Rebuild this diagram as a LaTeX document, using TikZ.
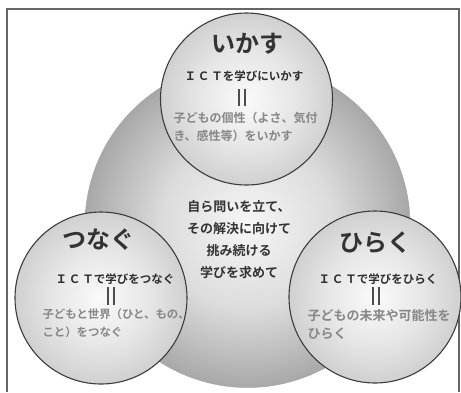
\documentclass[tikz,border=0pt]{standalone}
\usepackage{fontspec}
\setmainfont{Noto Sans CJK JP}[BoldFont={Noto Sans CJK JP Bold}]
\definecolor{headc}{HTML}{333333}
\definecolor{ictc}{HTML}{2E2E2E}
\definecolor{descc}{HTML}{878787}
\definecolor{edgec}{HTML}{3C3C3C}
\definecolor{bigin}{HTML}{F6F6F6}
\definecolor{bigmid}{HTML}{DCDCDC}
\definecolor{bigout}{HTML}{A8A8A8}
\definecolor{smin}{HTML}{FAFAFA}
\definecolor{smmid}{HTML}{E6E6E6}
\definecolor{smout}{HTML}{D0D0D0}
\pgfdeclareradialshading{bigshade}{\pgfpoint{0bp}{0bp}}{color(0bp)=(bigin); color(13bp)=(bigmid); color(25bp)=(bigout); color(50bp)=(bigout)}
\pgfdeclareradialshading{smshade}{\pgfpoint{0bp}{0bp}}{color(0bp)=(smin); color(14bp)=(smmid); color(25bp)=(smout); color(50bp)=(smout)}
\tikzset{
  bigc/.style={circle, minimum size=325pt, inner sep=0pt, shading=bigshade, draw=gray!70, line width=0.5pt},
  smallc/.style={circle, minimum size=172pt, inner sep=0pt, shading=smshade, draw=edgec, line width=1.1pt},
  headt/.style={font=\fontsize{24}{26}\selectfont\bfseries, text=headc},
  ictt/.style={font=\fontsize{11.5}{13}\selectfont\bfseries, text=ictc},
  desct/.style={font=\fontsize{12}{18}\selectfont\bfseries, text=descc, align=left},
  centt/.style={font=\fontsize{13}{22}\selectfont\bfseries, text=headc, align=center},
  eqbar/.style={draw=ictc!85, line width=2pt},
  framec/.style={draw=gray!80!black, line width=1.3pt}
}
\begin{document}
\begin{tikzpicture}[x=1pt,y=-1pt]
\useasboundingbox (0,0) rectangle (461,392);
\fill[white] (0,0) rectangle (461,392);
\draw[framec] (7,392) -- (7,9) -- (459,9) -- (459,392);
% big circle
\node[bigc] (big) at (247.5,225) {};
% small circles
\node[smallc] (top) at (246.5,99) {};
\node[smallc] (left) at (101,298) {};
\node[smallc] (right) at (375,297) {};
% top texts
\node[headt] (th) at (247,44) {いかす};
\node[ictt] (ti) at (244,76) {Ｉ\,Ｃ\,Ｔを学びにいかす};
\coordinate (tq) at (242,89);
\draw[eqbar] ([xshift=-2.6pt]tq) -- ++(0,17);
\draw[eqbar] ([xshift=2.6pt]tq) -- ++(0,17);
\node[desct, anchor=north west] (td) at (170,109) {子どもの個性（よさ、気付\\き、感性等）をいかす};
% center text
\node[centt] (ct) at (239,240) {自ら問いを立て、\\その解決に向けて\\挑み続ける\\学びを求めて};
% left texts
\node[headt] (lh) at (98,240) {つなぐ};
\node[ictt] (li) at (115,279) {Ｉ\,Ｃ\,Ｔで学びをつなぐ};
\coordinate (lq) at (111,287);
\draw[eqbar] ([xshift=-2.6pt]lq) -- ++(0,18);
\draw[eqbar] ([xshift=2.6pt]lq) -- ++(0,18);
\node[desct, anchor=north west, font=\fontsize{11.4}{18}\selectfont\bfseries] (ld) at (39,305) {子どもと世界（ひと、もの、\\こと）をつなぐ};
% right texts
\node[headt] (rh) at (375,243) {ひらく};
\node[ictt] (ri) at (378,279) {Ｉ\,Ｃ\,Ｔで学びをひらく};
\coordinate (rq) at (376,287);
\draw[eqbar] ([xshift=-2.6pt]rq) -- ++(0,18);
\draw[eqbar] ([xshift=2.6pt]rq) -- ++(0,18);
\node[desct, anchor=north west, font=\fontsize{13}{18}\selectfont\bfseries] (rd) at (304,306) {子どもの未来や可能性を\\ひらく};
\end{tikzpicture}
\end{document}
